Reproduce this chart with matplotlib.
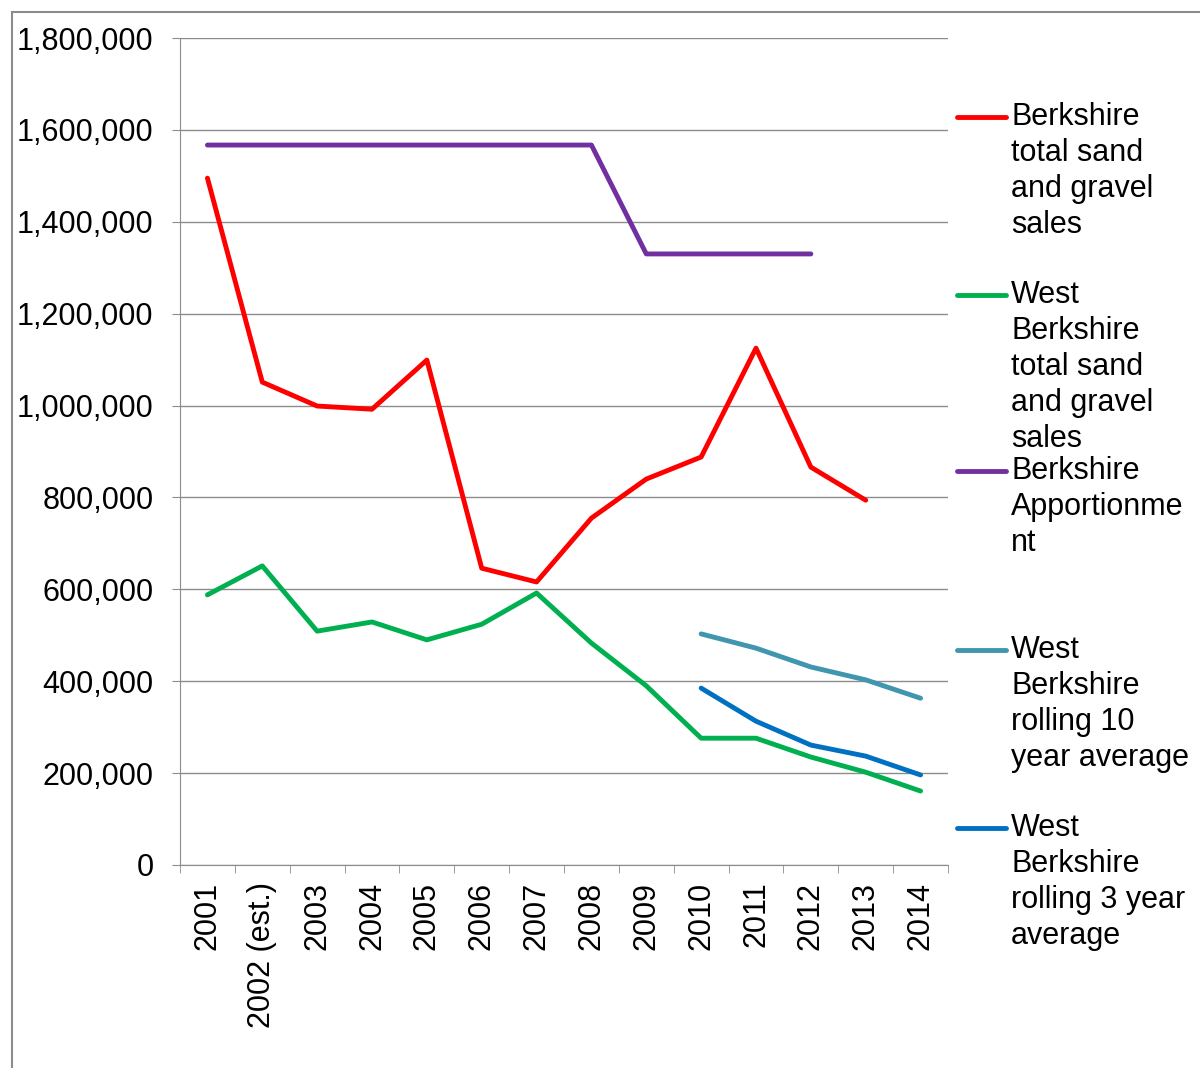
import matplotlib
matplotlib.use("Agg")
import matplotlib.pyplot as plt
import numpy as np
from matplotlib.lines import Line2D
from matplotlib.patches import Rectangle

plt.rcParams['font.family'] = ['Liberation Sans', 'DejaVu Sans']

years = ["2001", "2002 (est.)", "2003", "2004", "2005", "2006", "2007",
         "2008", "2009", "2010", "2011", "2012", "2013", "2014"]

berks_total = [1495000, 1051000, 999000, 992000, 1099000, 646000, 616000,
               755000, 840000, 888000, 1125000, 866000, 794000, None]
west_total = [588000, 651000, 509000, 529000, 490000, 524000, 592000,
              483000, 390000, 276000, 276000, 235000, 202000, 161000]
apportion = [1567000] * 8 + [1330000] * 4 + [None, None]
west_10yr = [None] * 9 + [503000, 472000, 431000, 403000, 363000]
west_3yr = [None] * 9 + [385000, 313000, 261000, 237000, 196000]

series = [
    (berks_total, "#FF0000", ["Berkshire", "total sand", "and gravel", "sales"]),
    (west_total, "#00B050", ["West", "Berkshire", "total sand", "and gravel", "sales"]),
    (apportion, "#7030A0", ["Berkshire", "Apportionme", "nt"]),
    (west_10yr, "#3F96AE", ["West", "Berkshire", "rolling 10", "year average"]),
    (west_3yr, "#0070C0", ["West", "Berkshire", "rolling 3 year", "average"]),
]

W, H = 1200, 1068
fig = plt.figure(figsize=(W / 100, H / 100), dpi=100)
ax = fig.add_axes([180 / W, 1 - 865 / H, (948 - 180) / W, (865 - 38) / H])

x = np.arange(len(years))
for vals, col, _ in series:
    v = np.array([np.nan if a is None else a for a in vals], dtype=float)
    ax.plot(x, v, color=col, lw=3.5, solid_capstyle='round', solid_joinstyle='round')

ax.set_xlim(-0.5, len(years) - 0.5)
ax.set_ylim(0, 1800000)
ax.set_yticks(np.arange(0, 1800001, 200000))
ax.yaxis.set_major_formatter(matplotlib.ticker.FuncFormatter(lambda v, p: f"{int(v):,}"))
ax.grid(axis='y', color='#8c8c8c', lw=1)
ax.set_axisbelow(True)

ax.set_xticks(x)
ax.set_xticklabels(years, rotation=90, va='top', ha='center')
ax.set_xticks(np.arange(-0.5, len(years), 1), minor=True)
ax.tick_params(axis='x', which='major', length=0, pad=12, labelsize=22)
ax.tick_params(axis='x', which='minor', length=6, color='#8c8c8c')
ax.tick_params(axis='y', length=6, color='#8c8c8c', pad=13, labelsize=22)

for s in ['top', 'right']:
    ax.spines[s].set_visible(False)
for s in ['left', 'bottom']:
    ax.spines[s].set_color('#8c8c8c')

# legend, placed by hand like the original
legend_y = [117, 295, 471, 650, 828]
for (vals, col, lines), y0 in zip(series, legend_y):
    fy = 1 - y0 / H
    fig.add_artist(Line2D([957 / W, 1006 / W], [fy, fy], color=col, lw=3.5,
                          solid_capstyle='round', transform=fig.transFigure))
    for i, t in enumerate(lines):
        fig.text(1011 / W, 1 - (y0 + 36 * i) / H, t, fontsize=22, va='center', ha='left')

# outer frame
fig.add_artist(Rectangle((12 / W, -0.1), 1.2, 1 - 12 / H + 0.1, fill=False,
                         edgecolor='#8c8c8c', lw=1.5, transform=fig.transFigure))

fig.savefig("out.png", dpi=100)
